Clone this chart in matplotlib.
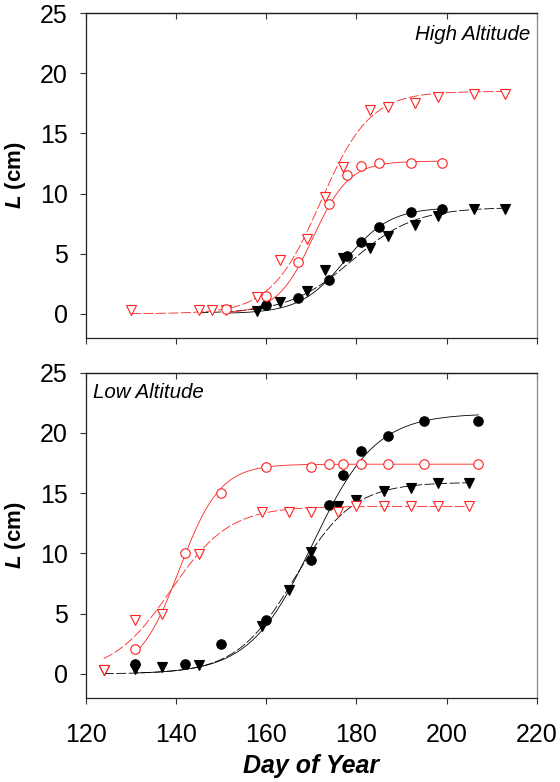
import matplotlib
matplotlib.use("Agg")
import matplotlib.pyplot as plt
import numpy as np

plt.rcParams["font.family"] = ["Liberation Sans", "DejaVu Sans"]
plt.rcParams["mathtext.fontset"] = "custom"
plt.rcParams["mathtext.it"] = "Liberation Sans:bold:italic"
plt.rcParams["mathtext.rm"] = "Liberation Sans:bold"

# ---- High altitude panel: observed points ----
hi_tri_open_day = [130, 145, 148, 151, 158, 163, 169, 173, 177, 183, 187, 193, 198, 206, 213]
hi_tri_open_L = [0.3, 0.3, 0.3, 0.3, 1.4, 4.5, 6.2, 9.75, 12.2, 16.95, 17.2, 17.55, 18.05, 18.25, 18.25]
hi_circ_open_day = [151, 160, 167, 174, 178, 181, 185, 192, 199]
hi_circ_open_L = [0.4, 1.5, 4.3, 9.1, 11.5, 12.3, 12.5, 12.5, 12.5]
hi_circ_fill_day = [160, 167, 174, 178, 181, 185, 192, 199]
hi_circ_fill_L = [0.7, 1.3, 2.8, 4.8, 6.0, 7.2, 8.5, 8.7]
hi_tri_fill_day = [158, 163, 169, 173, 177, 183, 187, 193, 198, 206, 213]
hi_tri_fill_L = [0.25, 0.95, 1.85, 3.65, 4.6, 5.45, 6.5, 7.4, 8.15, 8.75, 8.75]

# ---- Low altitude panel: observed points ----
lo_circ_open_day = [131, 142, 150, 160, 170, 174, 177, 181, 187, 195, 207]
lo_circ_open_L = [2.1, 10.0, 15.0, 17.2, 17.2, 17.4, 17.4, 17.4, 17.4, 17.4, 17.4]
lo_tri_open_day = [124, 131, 137, 145, 159, 165, 170, 176, 180, 186, 192, 198, 205]
lo_tri_open_L = [0.35, 4.45, 5.0, 9.95, 13.4, 13.4, 13.4, 13.4, 13.9, 13.9, 13.9, 13.9, 13.9]
lo_circ_fill_day = [131, 142, 150, 160, 170, 174, 177, 181, 187, 195, 207]
lo_circ_fill_L = [0.85, 0.8, 2.5, 4.5, 9.45, 14.0, 16.5, 18.5, 19.7, 21.0, 21.0]
lo_tri_fill_day = [124, 131, 137, 145, 159, 165, 170, 176, 180, 186, 192, 198, 205]
lo_tri_fill_L = [0.35, 0.4, 0.55, 0.75, 3.95, 6.95, 10.15, 13.95, 14.45, 15.15, 15.4, 15.85, 15.85]

# fitted logistic curves: (K, t0, b, day_start, day_end)
hi_fits = {
    "tri_open": (18.5, 172.0, 5.5, 130, 213),
    "circ_open": (12.7, 170.4, 4.0, 151, 199),
    "circ_fill": (8.85, 177.5, 5.0, 151, 199),
    "tri_fill": (8.85, 179.0, 7.0, 145, 213),
}
lo_fits = {
    "circ_open": (17.4, 140.8, 4.5, 131, 207),
    "tri_open": (13.9, 138.9, 6.5, 124, 205),
    "circ_fill": (21.6, 170.3, 7.0, 131, 207),
    "tri_fill": (15.9, 166.3, 6.5, 124, 205),
}

RED = "#ff2020"
DASH = (0, (12, 3))
FW, FH = 5.6, 7.82


def logistic(fit):
    K, t0, b, d0, d1 = fit
    t = np.linspace(d0, d1, 300)
    return t, K / (1 + np.exp(-(t - t0) / b))


def draw_panel(ax, fits, pts):
    styles = {
        "tri_open": dict(color=RED, ls=DASH, marker="v", mfc="white", mec=RED),
        "circ_open": dict(color=RED, ls="-", marker="o", mfc="white", mec=RED),
        "circ_fill": dict(color="black", ls="-", marker="o", mfc="black", mec="black"),
        "tri_fill": dict(color="black", ls=DASH, marker="v", mfc="black", mec="black"),
    }
    for key in ["tri_fill", "circ_fill", "tri_open", "circ_open"]:
        st = styles[key]
        t, y = logistic(fits[key])
        ax.plot(t, y, color=st["color"], ls=st["ls"], lw=0.6, zorder=2)
        d, v = pts[key]
        ax.plot(d, v, ls="none", marker=st["marker"], ms=6.8, mfc=st["mfc"],
                mec=st["mec"], mew=0.8, zorder=3)

    ax.set_xlim(120, 220)
    ax.set_ylim(-2, 25)
    ax.set_xticks(range(120, 221, 20))
    ax.set_yticks(range(0, 26, 5))
    ax.tick_params(axis="both", direction="out", length=4, width=0.8,
                   color="#333333", labelsize=18, pad=9)
    ax.tick_params(axis="x", pad=14)
    top = ax.secondary_xaxis("top")
    top.set_xticks(range(120, 221, 20))
    top.tick_params(direction="in", length=4, width=0.8, color="#333333",
                    labeltop=False)
    for side in ["left", "bottom", "top"]:
        ax.spines[side].set_color("#222222")
        ax.spines[side].set_linewidth(0.9)
    top.spines["top"].set_color("#222222")
    top.spines["top"].set_linewidth(0.9)
    ax.spines["right"].set_color("#888888")
    ax.spines["right"].set_linewidth(0.9)


fig = plt.figure(figsize=(FW, FH), dpi=100)
ax1 = fig.add_axes([0.153, 0.5682, 0.806, 0.4148])
ax2 = fig.add_axes([0.153, 0.1074, 0.806, 0.4162])

draw_panel(ax1, hi_fits, {
    "tri_open": (hi_tri_open_day, hi_tri_open_L),
    "circ_open": (hi_circ_open_day, hi_circ_open_L),
    "circ_fill": (hi_circ_fill_day, hi_circ_fill_L),
    "tri_fill": (hi_tri_fill_day, hi_tri_fill_L),
})
draw_panel(ax2, lo_fits, {
    "tri_open": (lo_tri_open_day, lo_tri_open_L),
    "circ_open": (lo_circ_open_day, lo_circ_open_L),
    "circ_fill": (lo_circ_fill_day, lo_circ_fill_L),
    "tri_fill": (lo_tri_fill_day, lo_tri_fill_L),
})
ax1.tick_params(axis="x", labelbottom=False)

ax1.text(0.985, 0.936, "High Altitude", transform=ax1.transAxes, ha="right",
         va="center", fontsize=14.8, style="italic")
ax2.text(0.017, 0.939, "Low Altitude", transform=ax2.transAxes, ha="left",
         va="center", fontsize=14.8, style="italic")

fig.text(0.027, 0.7756, r"$L$ (cm)", rotation=90, ha="center", va="center",
         fontsize=16, fontweight="bold")
fig.text(0.027, 0.3156, r"$L$ (cm)", rotation=90, ha="center", va="center",
         fontsize=16, fontweight="bold")
fig.text(0.556, 0.011, "Day of Year", ha="center", va="baseline",
         fontsize=18, fontweight="bold", style="italic")

fig.savefig("out.png", dpi=100)
